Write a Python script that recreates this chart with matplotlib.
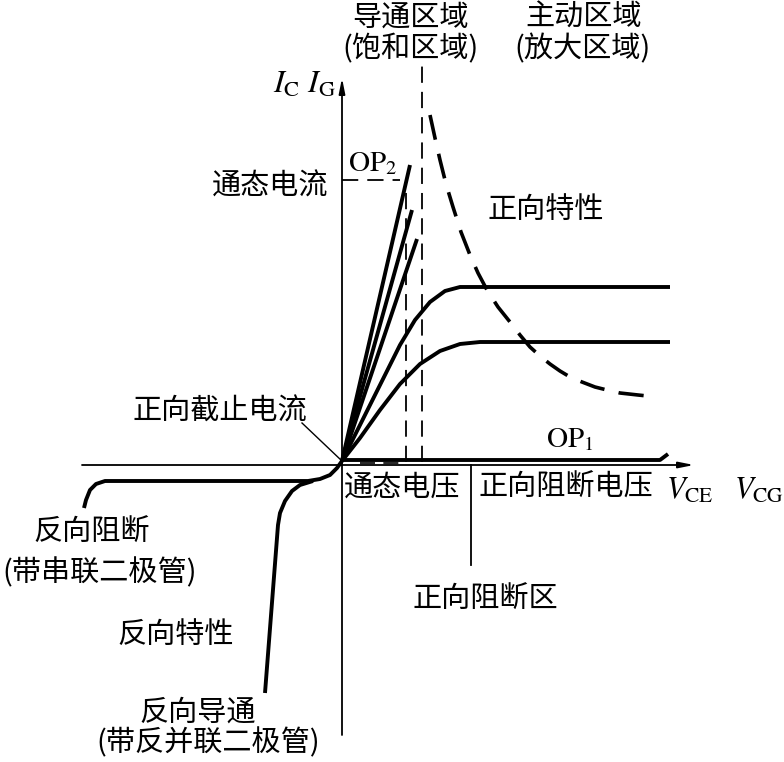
import numpy as np
import matplotlib.pyplot as plt

plt.rcParams['font.family'] = ['Noto Sans CJK SC', 'DejaVu Sans']
plt.rcParams['mathtext.fontset'] = 'stix'

# diagram units: 1 unit ~ 1 px, origin at axis crossing, y up
fan_ends_x = [68, 70, 75]
fan_ends_y = [300, 255, 226]

upper_x = [0, 18, 38, 58, 73, 88, 103, 118, 328]
upper_y = [4, 40, 80, 120, 145, 163, 174, 178, 178]
lower_x = [0, 18, 38, 58, 78, 98, 118, 138, 328]
lower_y = [4, 27, 55, 81, 101, 114, 121, 123, 123]

op1_x = [0, 318, 326]
op1_y = [5, 5, 11]

limit_x = [88, 93, 98, 104, 111, 119, 128, 136, 145, 156, 168, 178, 188, 198, 208,
           218, 228, 240, 253, 265, 278, 296, 315]
limit_y = [350, 327, 305, 281, 258, 233, 210, 192, 175, 158, 143, 130, 118, 109, 101,
           94, 88, 83, 78, 75, 72, 70, 68]

rev_block_x = [0, -5, -12, -22, -34, -237, -246, -252, -256, -258]
rev_block_y = [4, -3, -10, -14, -16, -16, -19, -25, -35, -43]
rev_cond_x = [-29, -42, -50, -57, -62, -64, -77]
rev_cond_y = [-16, -20, -26, -36, -48, -60, -228]

on_current = 285      # 通态电流 level
on_voltage = 64       # 通态电压
sat_edge = 80         # 导通/主动 boundary
block_mark = 129      # 正向阻断区 marker

fig = plt.figure(figsize=(7.84, 7.62), dpi=100)
ax = fig.add_axes([0, 0, 1, 1])
ax.set_xlim(-342, 442)
ax.set_ylim(-297, 465)
ax.axis('off')

k = dict(color='black', solid_capstyle='butt')

# axes with arrows
ax.annotate('', xy=(352, 0), xytext=(-260, 0),
            arrowprops=dict(arrowstyle='-|>,head_length=0.9,head_width=0.18',
                            lw=1.3, color='black', shrinkA=0, shrinkB=0))
ax.annotate('', xy=(0, 387), xytext=(0, -270),
            arrowprops=dict(arrowstyle='-|>,head_length=0.9,head_width=0.18',
                            lw=1.3, color='black', shrinkA=0, shrinkB=0))

# forward characteristic
for xe, ye in zip(fan_ends_x, fan_ends_y):
    ax.plot([0, xe], [4, ye], lw=2.8, **k)
ax.plot(upper_x, upper_y, lw=2.8, **k)
ax.plot(lower_x, lower_y, lw=2.8, **k)
ax.plot(op1_x, op1_y, lw=2.8, **k)
ax.plot(limit_x, limit_y, lw=2.6, ls=(0, (7, 4)), color='black')

# reverse characteristic
ax.plot(rev_block_x, rev_block_y, lw=2.8, **k)
ax.plot(rev_cond_x, rev_cond_y, lw=2.8, **k)

# dashed guides
ax.plot([on_voltage, on_voltage], [3, on_current], lw=1.3, ls=(0, (9, 5)), color='black')
ax.plot([sat_edge, sat_edge], [3, 400], lw=1.3, ls=(0, (9, 5)), color='black')
ax.plot([0, 58], [on_current, on_current], lw=1.3, ls=(0, (9, 5)), color='black')
ax.plot([18, 61], [2.5, 2.5], lw=1.2, ls=(0, (9, 5)), color='black')

# markers / leaders
ax.plot([block_mark, block_mark], [0, -100], lw=1.3, color='black')
ax.plot([-40, 0], [42, 4], lw=1.0, color='black')

fs = 21
def t(x, y, s, ha='center', **kw):
    ax.text(x, y, s, ha=ha, va='center', fontsize=kw.pop('fontsize', fs), **kw)

t(68, 447, '导通区域')
t(69, 416, '(饱和区域)')
t(242, 447, '主动区域')
t(241, 416, '(放大区域)')
t(-6, 381, r'$I_{\mathrm{C}}\ I_{\mathrm{G}}$', ha='right', fontsize=23)
t(6, 302, r'$\mathrm{OP}_2$', ha='left', fontsize=21)
t(-14, 278, '通态电流', ha='right')
t(204, 255, '正向特性')
t(-122, 53, '正向截止电流')
t(228, 26, r'$\mathrm{OP}_1$', fontsize=21)
t(60, -23, '通态电压')
t(224, -23, '正向阻断电压')
t(348, -25, r'$V_{\mathrm{CE}}$', ha='center', fontsize=22)
t(442, -25, r'$V_{\mathrm{CG}}$', ha='right', fontsize=22)
t(-250, -68, '反向阻断')
t(-242, -108, '(带串联二极管)')
t(-166, -170, '反向特性')
t(143, -135, '正向阻断区')
t(-144, -248, '反向导通')
t(-134, -278, '(带反并联二极管)')

fig.savefig('out.png', dpi=100, facecolor='white')
